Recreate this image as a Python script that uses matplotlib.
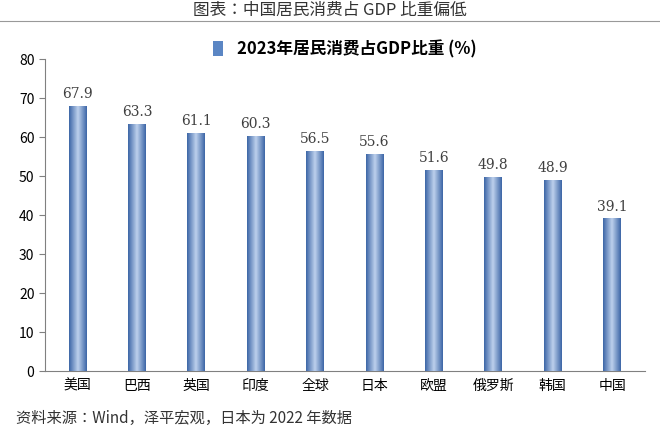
import matplotlib
matplotlib.use("Agg")
import matplotlib.pyplot as plt
import matplotlib.font_manager as fm
import numpy as np
from matplotlib.patches import Patch
import glob

cjk_name = None
for f in fm.fontManager.ttflist:
    if "CJK" in f.name and ("SC" in f.name or cjk_name is None):
        cjk_name = f.name
if cjk_name is None:
    for p in glob.glob("/usr/share/fonts/**/*CJK*", recursive=True):
        try:
            fm.fontManager.addfont(p)
        except Exception:
            pass
    for f in fm.fontManager.ttflist:
        if "CJK" in f.name:
            cjk_name = f.name
            break
plt.rcParams["font.family"] = [cjk_name or "Noto Sans CJK SC", "DejaVu Sans"]

categories = ["美国", "巴西", "英国", "印度", "全球", "日本", "欧盟", "俄罗斯", "韩国", "中国"]
values = [67.9, 63.3, 61.1, 60.3, 56.5, 55.6, 51.6, 49.8, 48.9, 39.1]
yticks = [0, 10, 20, 30, 40, 50, 60, 70, 80]

fig = plt.figure(figsize=(6.6, 4.31), dpi=100)
ax = fig.add_axes([0.068, 0.137, 0.909, 0.724])

x = np.arange(len(categories))
bars = ax.bar(x, values, width=0.3, color="#5b86c4", zorder=2)
grad = np.concatenate([np.linspace(0, 1, 16), np.linspace(1, 0, 16)])[None, :]
cmap = matplotlib.colors.LinearSegmentedColormap.from_list("g", ["#3f68a8", "#b9cdea"])
for b in bars:
    x0, w, h = b.get_x(), b.get_width(), b.get_height()
    im = ax.imshow(grad, extent=[x0, x0 + w, 0, h], aspect="auto", cmap=cmap, zorder=3)
    im.set_clip_path(b)
for xi, v in zip(x, values):
    ax.text(xi, v + 1.5, f"{v}", ha="center", va="bottom", fontsize=10, color="#404040",
            family="DejaVu Serif")

ax.set_xlim(-0.55, len(categories) - 0.45)
ax.set_ylim(0, 80)
ax.set_yticks(yticks)
ax.set_xticks(x)
ax.set_xticklabels(categories, fontsize=10)
ax.tick_params(axis="y", labelsize=10, length=4, color="#808080")
ax.tick_params(axis="x", length=0, pad=5)
for s in ["top", "right"]:
    ax.spines[s].set_visible(False)
for s in ["left", "bottom"]:
    ax.spines[s].set_color("#808080")

leg = ax.legend([Patch(facecolor="#5b86c4")], ["2023年居民消费占GDP比重 (%)"],
                loc="upper center", bbox_to_anchor=(0.5, 1.11), frameon=False,
                prop={"size": 12, "weight": "bold"}, handlelength=0.6, handleheight=1.0)

fig.text(0.5, 0.975, "图表：中国居民消费占 GDP 比重偏低", ha="center", va="center", fontsize=12, color="#333333")
fig.add_artist(plt.Line2D([0, 1], [0.948, 0.948], color="#999999", lw=0.8))
fig.text(0.025, 0.03, "资料来源：Wind，泽平宏观，日本为 2022 年数据", ha="left", va="center",
         fontsize=11, style="italic", color="#333333")

fig.savefig("out.png", dpi=100)
